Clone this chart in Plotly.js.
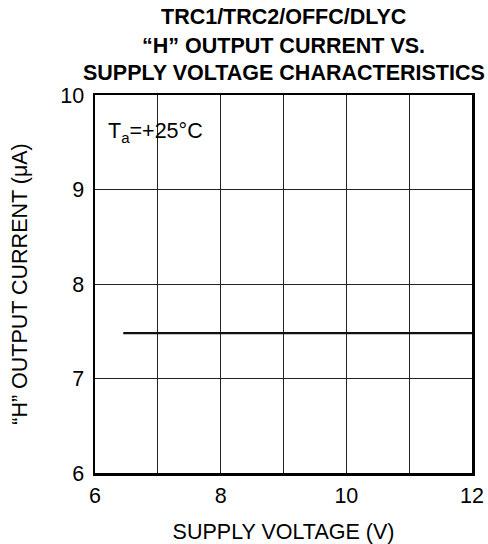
<!DOCTYPE html>
<html>
<head>
<meta charset="utf-8">
<script src="https://cdn.plot.ly/plotly-3.0.1.min.js"></script>
<style>html,body{margin:0;padding:0;background:#fff;}#chart{width:488px;height:544px;}</style>
</head>
<body>
<div id="chart"></div>
<script>
const supplyVoltage = [6.45, 12];
const outputCurrent = [7.48, 7.48];
const xTickVals = [6, 7, 8, 9, 10, 11, 12];
const xTickText = ['6', '', '8', '', '10', '', '12'];
const yTickVals = [6, 7, 8, 9, 10];
const yTickText = ['6', '7', '8', '9', '10'];
const titleLines = ['TRC1/TRC2/OFFC/DLYC', '“H” OUTPUT CURRENT VS.', 'SUPPLY VOLTAGE CHARACTERISTICS'];
const xTitle = 'SUPPLY VOLTAGE (V)';
const yTitle = '“H” OUTPUT CURRENT (μA)';
const conditionText = 'T<sub>a</sub>=+25°C';

const F = 'Arial, "Liberation Sans", Helvetica, sans-serif';
const FS = 21.5;
const titleY = [1.206, 1.13, 1.058];

const annotations = titleLines.map((t, i) => ({
  text: '<b>' + t + '</b>', xref: 'paper', yref: 'paper', x: 0.5, y: titleY[i],
  xanchor: 'center', yanchor: 'middle', showarrow: false,
  font: {family: F, size: FS, color: '#000'}
}));
annotations.push({
  text: conditionText, xref: 'paper', yref: 'paper', x: 0.03, y: 0.9,
  xanchor: 'left', yanchor: 'middle', showarrow: false,
  font: {family: F, size: FS, color: '#000'}
});

Plotly.newPlot('chart', [{
  x: supplyVoltage, y: outputCurrent, type: 'scatter', mode: 'lines',
  line: {color: '#111', width: 2.2}, hoverinfo: 'skip', showlegend: false
}], {
  width: 488, height: 544,
  margin: {l: 95, r: 16, t: 95, b: 71},
  paper_bgcolor: '#fff', plot_bgcolor: '#fff',
  font: {family: F, color: '#000'},
  xaxis: {
    range: [6, 12], tickvals: xTickVals, ticktext: xTickText,
    showgrid: true, gridcolor: '#222', gridwidth: 1,
    showline: true, linecolor: '#000', linewidth: 2.5, mirror: true,
    ticks: '', zeroline: false, ticklabelstandoff: 2,
    tickfont: {family: F, size: FS, color: '#000'},
    title: {text: xTitle, font: {family: F, size: FS, color: '#000'}, standoff: 18}
  },
  yaxis: {
    range: [6, 10], tickvals: yTickVals, ticktext: yTickText,
    showgrid: true, gridcolor: '#222', gridwidth: 1,
    showline: true, linecolor: '#000', linewidth: 2.5, mirror: true,
    ticks: '', zeroline: false, ticklabelstandoff: 4,
    tickfont: {family: F, size: FS, color: '#000'},
    title: {text: yTitle, font: {family: F, size: FS, color: '#000'}, standoff: 27}
  },
  annotations: annotations
}, {staticPlot: true, displayModeBar: false});
</script>
</body>
</html>
